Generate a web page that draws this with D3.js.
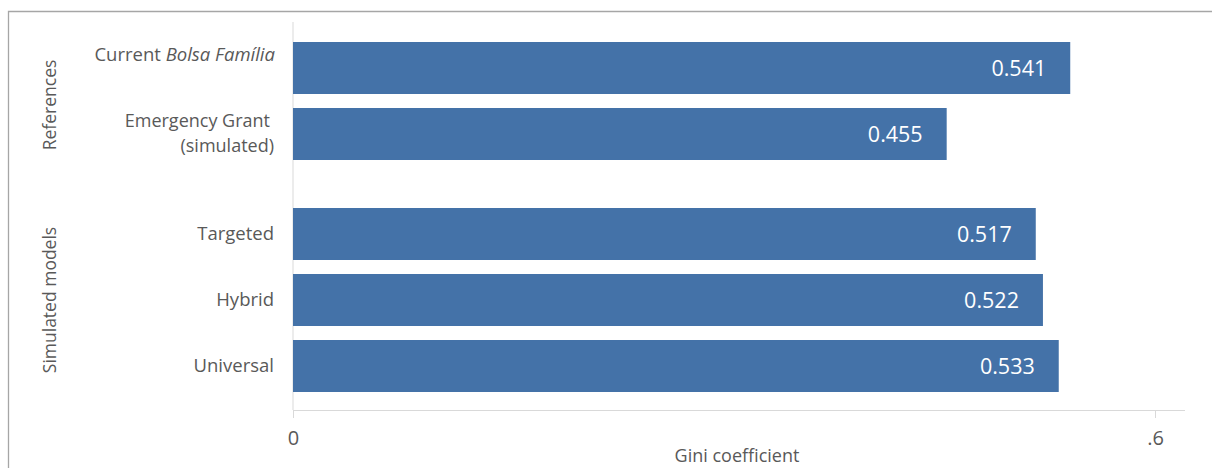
<!DOCTYPE html>
<html><head><meta charset="utf-8">
<script src="https://cdn.jsdelivr.net/npm/d3@7"></script>
<style>body{margin:0;background:#fff;}svg{display:block;font-family:"Open Sans",sans-serif;}</style>
</head><body><svg id="c" width="1212" height="468"></svg>
<script>
const groups = ["References", "Simulated models"];
const categories = ["Current Bolsa Família", "Emergency Grant (simulated)", "Targeted", "Hybrid", "Universal"];
const categoryGroup = ["References", "References", "Simulated models", "Simulated models", "Simulated models"];
const values = [0.541, 0.455, 0.517, 0.522, 0.533];
const xTicks = [0, 0.6];
const xTickLabels = ["0", ".6"];

const svg = d3.select("#c");
const x = d3.scaleLinear().domain([0, 0.6]).range([293, 1155]);
const step = 66, groupGap = 34, barH = 52, top0 = 42;
const slotY = categories.map((c, i) => {
  const g = groups.indexOf(categoryGroup[i]);
  return top0 + i * step + g * groupGap;
});
const y = d3.scaleOrdinal().domain(categories).range(slotY);

// frame
svg.append("path").attr("d", "M8.5,468 V11.5 H1212").attr("fill", "none").attr("stroke", "#a6a6a6").attr("stroke-width", 1.3);

// gridline at 0 and axis
svg.append("line").attr("x1", x(0)).attr("x2", x(0)).attr("y1", 22).attr("y2", 410).attr("stroke", "#d9d9d9").attr("stroke-width", 1);
const axis = d3.axisBottom(x).tickValues(xTicks).tickFormat((d, i) => xTickLabels[i]).tickSize(8).tickSizeOuter(0).tickPadding(0);
const ax = svg.append("g").attr("transform", "translate(0,410)").call(axis);
ax.select(".domain").attr("stroke", "#d9d9d9").attr("d", `M${x(0)},0.5H1185`);
ax.selectAll(".tick line").attr("stroke", "#d9d9d9");
ax.selectAll(".tick text").attr("fill", "#595959").attr("font-size", 20).attr("font-family", "Open Sans, sans-serif").attr("dy", null).attr("y", 35);

svg.append("text").attr("x", 737).attr("y", 462).attr("text-anchor", "middle").attr("fill", "#595959").attr("font-size", 18).text("Gini coefficient");

// bars
svg.selectAll("rect.bar").data(values).enter().append("rect")
  .attr("x", x(0)).attr("y", (d, i) => y(categories[i])).attr("width", d => x(d) - x(0)).attr("height", barH).attr("fill", "#4472a8");
svg.selectAll("text.val").data(values).enter().append("text")
  .attr("x", d => x(d) - 24).attr("y", (d, i) => y(categories[i]) + barH / 2 + 7.5).attr("text-anchor", "end")
  .attr("fill", "#fff").attr("font-size", 21.5).text(d => d.toFixed(3));

// category labels
const lab = svg.append("g").attr("fill", "#595959").attr("font-size", 18.5).attr("text-anchor", "end");
categories.forEach((c, i) => {
  const cy = y(c) + barH / 2;
  if (c.startsWith("Current")) {
    const t = lab.append("text").attr("x", 275).attr("y", cy - 7);
    t.append("tspan").text("Current ");
    t.append("tspan").attr("font-style", "italic").text("Bolsa Família");
  } else if (c.startsWith("Emergency")) {
    lab.append("text").attr("x", 270).attr("y", cy - 7).attr("font-size", 18).text("Emergency Grant");
    lab.append("text").attr("x", 274).attr("y", cy + 18).attr("font-size", 18).text("(simulated)");
  } else {
    lab.append("text").attr("x", 274).attr("y", cy + 6).text(c);
  }
});

// group labels
groups.forEach((g, gi) => {
  const ys = categories.map((c, i) => categoryGroup[i] === g ? y(c) : null).filter(v => v !== null);
  const mid = (d3.min(ys) + d3.max(ys) + barH) / 2 + (gi === 0 ? 4 : 0);
  svg.append("text").attr("transform", `translate(56,${mid}) rotate(-90)`).attr("text-anchor", "middle")
    .attr("fill", "#595959").attr("font-size", 17.5).text(g);
});
</script></body></html>
